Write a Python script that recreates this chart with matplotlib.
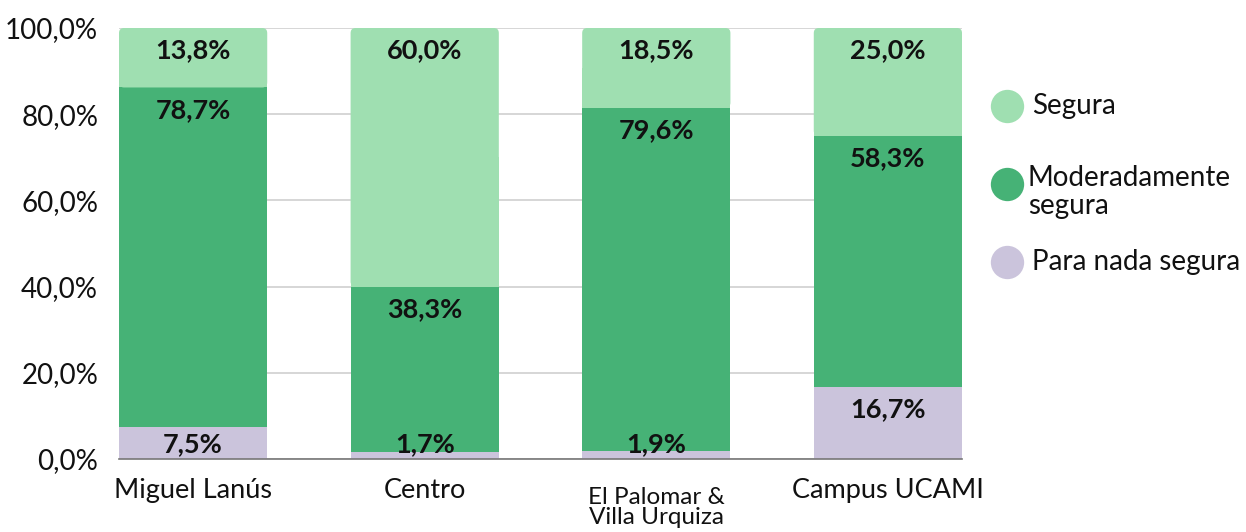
import matplotlib
matplotlib.use("Agg")
import matplotlib.pyplot as plt
from matplotlib.lines import Line2D
from matplotlib.patches import FancyBboxPatch
from matplotlib.transforms import offset_copy
import numpy as np

categories = ["Miguel Lanús", "Centro", "El Palomar &\nVilla Urquiza", "Campus UCAMI"]
para_nada = [7.5, 1.7, 1.9, 16.7]
moderada = [78.7, 38.3, 79.6, 58.3]
segura = [13.8, 60.0, 18.5, 25.0]
yticks = [0, 20, 40, 60, 80, 100]
series_names = ["Segura", "Moderadamente\nsegura", "Para nada segura"]

c_seg = "#9fdfb1"
c_mod = "#46b276"
c_para = "#cbc4dc"

plt.rcParams['font.family'] = ['Lato', 'DejaVu Sans']

fig = plt.figure(figsize=(12.46, 5.32), dpi=100)
fig.patch.set_facecolor("white")
W, H = 1246, 532
ax = fig.add_axes([119 / W, 73 / H, (962 - 119) / W, 431 / H])
ax.set_facecolor("none")

x = np.arange(len(categories))
width = 0.64
b1 = ax.bar(x, para_nada, width, color=c_para, zorder=2)
bottom2 = np.array(para_nada)
b2 = ax.bar(x, moderada, width, bottom=bottom2, color=c_mod, zorder=2)
bottom3 = bottom2 + np.array(moderada)
b3 = ax.bar(x, segura, width, bottom=bottom3, color=c_seg, zorder=2)

ax.set_xlim(-width / 2, len(categories) - 1 + width / 2)
ax.set_ylim(0, 100)

# rounded top corners for the top segment
px_x = (len(categories) - 1 + width) / (962 - 119)
px_y = 100 / 431
r_px = 5
for rect in b3:
    rx, ry, rw, rh = rect.get_x(), rect.get_y(), rect.get_width(), rect.get_height()
    rect.set_height(rh / 2)
    fb = FancyBboxPatch((rx, ry), rw, rh, boxstyle=f"round,pad=0,rounding_size={r_px * px_x}",
                        mutation_aspect=px_y / px_x, facecolor=c_seg, edgecolor="none", zorder=2)
    ax.add_patch(fb)

ax.set_yticks(yticks)
ax.set_yticklabels([f"{v:.1f}%".replace(".", ",") for v in yticks], fontsize=20, color="#111111")
ax.yaxis.grid(True, color="#d0d0d0", linewidth=1.2, zorder=0)
ax.set_axisbelow(True)
for s in ["top", "right", "left"]:
    ax.spines[s].set_visible(False)
ax.spines["bottom"].set_color("#777777")
ax.spines["bottom"].set_linewidth(1.2)
ax.tick_params(axis="y", length=0, pad=15)
ax.tick_params(axis="x", length=0, pad=14)
ax.set_xticks(x)
ax.set_xticklabels(categories, fontsize=19.5, color="#111111", linespacing=1.0)
for i, t in enumerate(ax.get_xticklabels()):
    if "\n" in categories[i]:
        t.set_fontsize(17.5)
        t.set_linespacing(0.95)
        t.set_y(-0.02)

# value labels
lab_trans = offset_copy(ax.transData, fig=fig, x=0, y=-16, units="points")
for vals, bottoms in [(para_nada, np.zeros(4)), (moderada, bottom2), (segura, bottom3)]:
    for i, (v, b) in enumerate(zip(vals, bottoms)):
        top = b + v
        ytop = max(top, 8.6)
        ax.text(x[i], ytop, f"{v:.1f}%".replace(".", ","), transform=lab_trans,
                ha="center", va="center", fontsize=19.5, fontweight="bold", color="#111111", zorder=5)

# legend (manual layout)
colors = [c_seg, c_mod, c_para]
circle_y = [106, 184, 262]
text_x = [1032, 1028, 1032]
for name, c, cy, tx in zip(series_names, colors, circle_y, text_x):
    fig.add_artist(Line2D([1007 / W], [1 - cy / H], transform=fig.transFigure, marker="o",
                          linestyle="none", markersize=24, markerfacecolor=c, markeredgewidth=0))
    if "\n" in name:
        fig.text(tx / W, 1 - 192 / H, name, fontsize=20, va="center", ha="left",
                 color="#111111", linespacing=1.05)
    else:
        fig.text(tx / W, 1 - cy / H, name, fontsize=20, va="center", ha="left", color="#111111")

fig.savefig("out.png", dpi=100, facecolor="white")
